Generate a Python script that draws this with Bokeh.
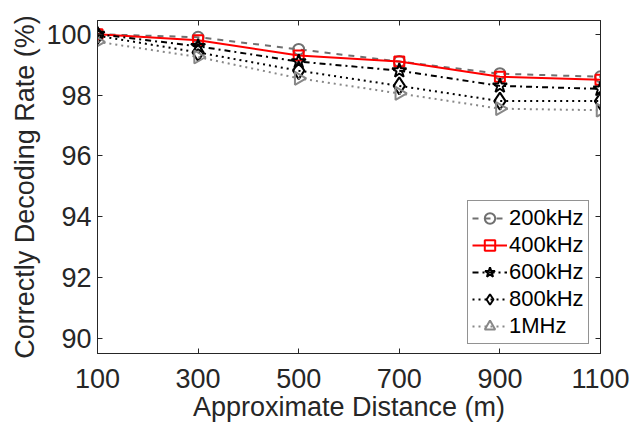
import numpy as np
from bokeh.plotting import figure
from bokeh.models import LinearAxis, Range1d, FixedTicker, Legend, LegendItem, CustomJSTickFormatter
from bokeh.embed import file_html
from bokeh.resources import INLINE

distance = [100, 300, 500, 700, 900, 1100]
rate_200k = [100.0, 99.9, 99.5, 99.1, 98.7, 98.6]
rate_400k = [100.0, 99.8, 99.3, 99.1, 98.6, 98.5]
rate_600k = [100.0, 99.6, 99.1, 98.8, 98.3, 98.2]
rate_800k = [99.95, 99.4, 98.8, 98.3, 97.8, 97.8]
rate_1m = [99.75, 99.25, 98.55, 98.05, 97.55, 97.5]
labels = ["200kHz", "400kHz", "600kHz", "800kHz", "1MHz"]
x_ticks = [100, 300, 500, 700, 900, 1100]
y_ticks = [90, 92, 94, 96, 98, 100]

FONT = "Liberation Sans"
AX = "#262626"

p = figure(frame_width=503, frame_height=333, min_border_left=97, min_border_top=20,
           min_border_right=30, min_border_bottom=72,
           x_range=Range1d(100, 1100), y_range=Range1d(89.5, 100.45),
           output_backend="svg", toolbar_location=None)
p.xgrid.visible = False
p.ygrid.visible = False
p.outline_line_color = AX
p.outline_line_width = 1

for ax, ticks in ((p.xaxis[0], x_ticks), (p.yaxis[0], y_ticks)):
    ax.ticker = FixedTicker(ticks=ticks)
    ax.major_tick_in = 5
    ax.major_tick_out = 0
    ax.minor_tick_line_color = None
    ax.axis_line_color = AX
    ax.major_tick_line_color = AX
    ax.major_label_text_font = FONT
    ax.major_label_text_font_size = "27px"
    ax.major_label_text_color = AX
    ax.axis_label_text_font = FONT
    ax.axis_label_text_font_size = "27px"
    ax.axis_label_text_font_style = "normal"
    ax.axis_label_text_color = AX
p.xaxis[0].axis_label = "Approximate Distance (m)"
p.yaxis[0].axis_label = "Correctly Decoding Rate (%)"
p.xaxis[0].major_label_standoff = 15
p.yaxis[0].major_label_standoff = 6
p.xaxis[0].axis_label_standoff = 1
p.yaxis[0].axis_label_standoff = 3

blank = CustomJSTickFormatter(code="return ''")
top = LinearAxis(ticker=FixedTicker(ticks=x_ticks), formatter=blank,
                 major_tick_in=5, major_tick_out=0, minor_tick_line_color=None,
                 axis_line_color=AX, major_tick_line_color=AX, major_label_standoff=0)
right = LinearAxis(ticker=FixedTicker(ticks=y_ticks), formatter=blank,
                   major_tick_in=5, major_tick_out=0, minor_tick_line_color=None,
                   axis_line_color=AX, major_tick_line_color=AX, major_label_standoff=0)
p.add_layout(top, "above")
p.add_layout(right, "right")

series = [
    (rate_200k, "#707070", "dashed", "circle", 11, 0),
    (rate_400k, "#ff0000", "solid", "square", 10, 0),
    (rate_600k, "#000000", "dashdot", "star", 15, 0),
    (rate_800k, "#000000", "dotted", "diamond", 17, 0),
    (rate_1m, "#888888", "dotted", "triangle", 13, -np.pi / 2),
]
items = []
for (vals, col, dash, marker, size, ang), lab in zip(series, labels):
    ln = p.line(distance, vals, line_color=col, line_dash=dash, line_width=2)
    sc = p.scatter(distance, vals, marker=marker, size=size, angle=ang,
                   line_color=col, fill_color=None, line_width=2)
    items.append(LegendItem(label=lab, renderers=[ln, sc]))

leg = Legend(items=items, location=(370, 9))
leg.label_text_font = FONT
leg.label_text_font_size = "22px"
leg.label_text_color = "#000000"
leg.glyph_width = 35
leg.glyph_height = 26
leg.label_height = 26
leg.spacing = 1
leg.padding = 4
leg.margin = 0
leg.label_standoff = 2
leg.border_line_color = AX
leg.border_line_width = 1
leg.background_fill_alpha = 1
p.add_layout(leg)

open("out.html", "w").write(file_html(p, INLINE))
